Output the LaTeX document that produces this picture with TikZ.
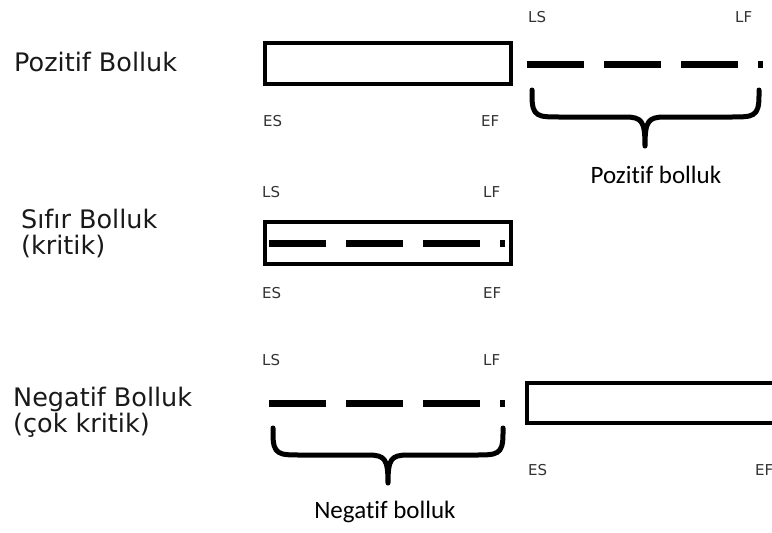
\documentclass[tikz,border=0pt]{standalone}
\usepackage{fontspec}
\setmainfont{DejaVu Sans}
\newfontfamily\bracefont{Carlito}[Ligatures={NoCommon}]
\begin{document}
\begin{tikzpicture}[x=1pt,y=-1pt,
  box/.style={draw=black,line width=4pt,minimum width=246pt,inner sep=0pt,fill=white},
  dashline/.style={line width=7pt,line cap=butt,dash pattern=on 57pt off 20pt},
  bracepath/.style={line width=5pt,line cap=round,line join=round},
  small/.style={inner sep=0pt,anchor=base west,text=black!80,font=\fontsize{15}{15}\selectfont},
  big/.style={inner sep=0pt,anchor=base west,align=left,text=black!90,font=\fontsize{25.5}{26}\selectfont},
  bracelabel/.style={inner sep=0pt,anchor=base,font=\bracefont\fontsize{25}{25}\selectfont}]
\useasboundingbox (0,0) rectangle (772,533);

% Row 1: Pozitif Bolluk
\node[big] (t1) at (14,71) {Pozitif Bolluk};
\node[box,minimum height=41pt] (r1) at (388,63.5) {};
\coordinate (d1s) at (527,64.5);
\coordinate (d1e) at (763,64.5);
\draw[dashline] (d1s) -- (d1e);
\node[small] (ls1) at (528,22) {LS};
\node[small] (lf1) at (735,22) {LF};
\node[small] (es1) at (263,126) {ES};
\node[small] (ef1) at (481,126) {EF};
\coordinate (b1l) at (532,90);
\coordinate (b1r) at (759,90);
\coordinate (b1t) at (645,146);
\draw[bracepath] (b1l) -- (532,96) .. controls (532,117) and (538,117) .. (560,117)
  -- (625,117) .. controls (642,117) and (645,121) .. (b1t)
  .. controls (645,121) and (648,117) .. (665,117)
  -- (731,117) .. controls (753,117) and (759,117) .. (759,96) -- (b1r);
\node[bracelabel] (p1) at (656,183) {Pozitif bolluk};

% Row 2: Sifir Bolluk (base anchor = baseline of the last line)
\node[big] (t2) at (21,254) {Sıfır Bolluk\\(kritik)};
\node[box,minimum height=42pt] (r2) at (388,243) {};
\coordinate (d2s) at (269,243);
\coordinate (d2e) at (505,243);
\draw[dashline] (d2s) -- (d2e);
\node[small] (ls2) at (262,197) {LS};
\node[small] (lf2) at (483,197) {LF};
\node[small] (es2) at (262,298) {ES};
\node[small] (ef2) at (483,298) {EF};

% Row 3: Negatif Bolluk
\node[big] (t3) at (13,432) {Negatif Bolluk\\(çok kritik)};
\node[box,minimum height=40pt,minimum width=300pt] (r3) at (677,403) {};
\coordinate (d3s) at (269,403);
\coordinate (d3e) at (505,403);
\draw[dashline] (d3s) -- (d3e);
\node[small] (ls3) at (262,365) {LS};
\node[small] (lf3) at (483,365) {LF};
\node[small] (es3) at (528,475) {ES};
\node[small] (ef3) at (755,475) {EF};
\coordinate (b3l) at (273,428);
\coordinate (b3r) at (503,428);
\coordinate (b3t) at (388,483);
\draw[bracepath] (b3l) -- (273,434) .. controls (273,455) and (279,455) .. (301,455)
  -- (368,455) .. controls (385,455) and (388,459) .. (b3t)
  .. controls (388,459) and (391,455) .. (408,455)
  -- (475,455) .. controls (497,455) and (503,455) .. (503,434) -- (b3r);
\node[bracelabel] (p3) at (385,518) {Negatif bolluk};
\end{tikzpicture}
\end{document}
